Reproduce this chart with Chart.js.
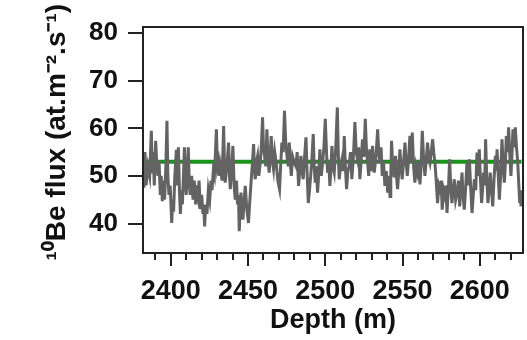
<!DOCTYPE html>
<html>
<head>
<meta charset="utf-8">
<script src="https://cdn.jsdelivr.net/npm/chart.js@4/dist/chart.umd.min.js"></script>
<style>
html,body{margin:0;padding:0;background:#fff;}
#wrap{width:527px;height:340px;position:relative;}
</style>
</head>
<body>
<div id="wrap"><canvas id="c" width="527" height="340"></canvas></div>
<script>
// Depth (m) of each sample
const depth = [
2382.0,2382.6,2383.3,2384.0,2385.2,2386.3,2387.4,2388.0,2388.6,2389.3,
2390.2,2391.0,2391.7,2392.4,2393.2,2393.8,2394.5,2395.2,2396.0,2396.8,
2397.5,2398.1,2398.8,2399.6,2400.6,2401.2,2401.8,2402.6,2403.6,2404.2,
2404.9,2405.6,2406.2,2406.9,2407.5,2408.2,2408.8,2409.4,2410.0,2410.6,
2411.3,2412.0,2412.6,2413.5,2414.4,2415.2,2416.1,2416.8,2417.6,2418.3,
2419.1,2420.0,2420.8,2421.3,2421.9,2422.6,2423.4,2424.3,2425.2,2426.0,
2426.7,2427.5,2428.2,2428.9,2429.5,2430.2,2430.8,2431.4,
2432.0,2433.2,2434.2,2434.7,2435.2,2436.3,2437.4,2438.0,2438.5,2439.3,
2440.2,2441.0,2441.7,2442.5,2443.2,2443.8,2444.3,2444.9,2445.4,2446.0,
2446.7,2447.5,2448.2,2449.2,2450.3,2451.0,2451.8,2452.7,2453.6,2454.2,
2454.7,2455.5,2456.2,2457.0,2457.9,2458.6,2459.4,2460.0,2460.7,2461.5,
2462.2,2463.0,2463.7,2464.3,2465.0,2465.8,2466.5,2467.3,2468.2,2469.3,
2470.4,2471.1,2471.9,2472.7,2473.6,2474.4,2475.2,2476.0,2476.7,2477.3,
2478.0,2478.9,2479.9,
2481.0,2481.8,2482.7,2483.5,2484.2,2485.0,2485.7,2486.6,2487.5,2488.2,
2489.0,2489.8,2490.7,2491.4,2492.2,2492.8,2493.5,2494.2,2495.0,2495.7,
2496.5,2497.4,2498.3,2499.1,2500.0,2500.8,2501.5,2502.2,2503.0,2503.6,
2504.3,2505.0,2505.8,2506.8,2507.8,2508.4,2509.0,2509.9,2510.8,2511.5,
2512.3,2513.0,2513.8,2514.6,2515.5,2516.3,2517.2,2518.2,2519.2,2520.0,
2520.9,2521.6,2522.4,2523.2,2524.1,2525.0,2525.9,2526.6,2527.4,2528.1,
2528.9,2529.7,
2530.6,2531.2,2531.7,2532.8,2533.9,2534.6,2535.4,2536.1,2536.9,2537.7,
2538.6,2539.5,2540.4,2541.2,2541.9,2542.4,2542.9,2543.7,2544.5,2545.0,
2545.5,2546.1,2546.8,2547.6,2548.3,2549.0,2549.8,2550.7,2551.6,2552.3,
2553.1,2554.0,2554.8,2555.5,2556.3,2557.2,2558.0,2558.8,2559.6,2560.5,
2561.3,2562.0,2562.8,2563.6,2564.5,2565.3,2566.2,2567.0,2567.8,2568.6,
2569.5,2570.2,2571.0,2571.8,2572.7,2573.5,2574.2,2575.0,2575.7,2576.6,
2577.5,2578.2,2578.8,
2579.8,2580.5,2581.2,2582.0,2582.8,2583.5,2584.4,2585.3,2586.2,2587.0,
2587.8,2588.5,2589.2,2590.0,2590.8,2591.7,2592.5,2593.3,2594.2,2595.0,
2595.8,2596.5,2597.4,2598.2,2599.0,2599.7,2600.5,2601.2,2601.8,2602.5,
2603.2,2603.8,2604.5,2605.3,2606.0,2606.8,2607.6,2608.4,2609.2,2610.1,
2610.6,2611.2,2612.0,2612.7,2613.5,2614.4,2615.2,2615.9,2616.5,2617.2,
2618.0,2618.7,2619.5,2620.2,2620.8,2621.5,2622.2,2623.0,2623.8,2624.6,
2625.3,2625.9,2626.3,2626.7
];
// 10Be flux (at.m-2.s-1)
const flux = [
52.5,47.5,55,48,52,50,59.5,50.5,55,48,
57.4,52,50,53,46,50,44.7,49,45,52,
61.6,50,46,48,40.1,45,42.5,50,55.5,48,
56,47,42,47,44,50,56,49,46,51,
56,48,46,50,45,49,44,48,46,49,
43,46,42,44,39.4,44,42,47,45,49,
47,51,50,55,59.8,52,53,50,
52,49,60.5,53,48.6,52,57,50,47.2,51,
56.3,48,45,49,44,46,38.4,43,46.5,43,
40.8,45,47.9,43,40.1,44,47.9,52,56.7,51,
49.3,53,54.2,50,52.8,56,62.3,56,54.2,52,
59.8,53,50.7,54,58.4,53,51.4,55,52.8,49,
47.2,52,57,55,63.7,57,54.2,52,57,53,
50,54,52.8,
52,55,47.9,51,54.2,51,49.3,54,58.1,51,
44.3,47,50.7,54,58.8,52,48.6,52,46.5,50,
55.6,50,52.8,56,62,55,50.7,53,47.9,51,
56.3,52,50.7,56,64.4,55,49.3,52,53.5,51,
58.4,52,47.2,51,52.1,55,49.3,54,61.3,55,
53.5,56,49.3,53,57.7,54,62,56,52.8,50,
55.6,51,
56.3,53,50.7,54,59.8,55,52.8,56,50,53,
47.9,51,46.5,50,45.7,50,57.4,52,50,52,
54.2,50,47.2,51,55.6,52,49.3,53,57,53,
50,54,58.4,53,59.1,52,48.6,52,50.7,53,
48.2,52,59.5,54,50,53,57,54,52.8,55,
57.7,55,52.8,49,44.3,48,47.2,49,42.9,47,
45.7,48,42.2,
47.9,53.5,48,44.3,47,49.3,45,46.5,49,43.6,
47,50.7,46,42.9,47,52.8,48,53.5,47,42.2,
46,49.3,47,54.9,50,55.6,49,44.3,47,50.7,
48,57.7,50,44.3,47,50.7,47,43.6,49,54.2,
51,55.6,50,45,50,57.7,52,48.6,52,58.4,
55,60.2,54,50,54,59.8,56,60.2,56,52.8,
48,44.3,47,43.6
];
// mean line
const meanDepth = [2383, 2627];
const meanFlux = [53, 53];
// axis ticks
const xTicks = [2390,2400,2410,2420,2430,2440,2450,2460,2470,2480,2490,2500,2510,2520,2530,2540,2550,2560,2570,2580,2590,2600,2610,2620];
const xLabelTicks = [2400,2450,2500,2550,2600];
const yTicks = [40,50,60,70,80];

const FONT = "'Liberation Sans', Arial, sans-serif";

const framePlugin = {
  id: 'frame',
  afterDraw(chart) {
    const ctx = chart.ctx;
    const a = chart.chartArea;
    const xs = chart.scales.x, ys = chart.scales.y;
    ctx.save();
    ctx.strokeStyle = '#222';
    ctx.lineWidth = 2;
    ctx.strokeRect(a.left, a.top, a.right - a.left, a.bottom - a.top);
    ctx.beginPath();
    xTicks.forEach(v => {
      const px = Math.round(xs.getPixelForValue(v));
      const len = xLabelTicks.includes(v) ? 13 : 7;
      ctx.moveTo(px, a.bottom);
      ctx.lineTo(px, a.bottom + len);
    });
    yTicks.forEach(v => {
      const py = Math.round(ys.getPixelForValue(v));
      ctx.moveTo(a.left - 15, py);
      ctx.lineTo(a.left, py);
    });
    ctx.stroke();
    ctx.restore();
  }
};

new Chart(document.getElementById('c'), {
  type: 'line',
  data: {
    datasets: [
      {
        data: depth.map((d, i) => ({x: d, y: flux[i]})),
        borderColor: '#636363',
        borderWidth: 3,
        pointRadius: 0,
        tension: 0,
        fill: false
      },
      {
        data: meanDepth.map((d, i) => ({x: d, y: meanFlux[i]})),
        borderColor: '#1a931a',
        borderWidth: 4,
        pointRadius: 0,
        fill: false
      }
    ]
  },
  options: {
    responsive: false,
    animation: false,
    devicePixelRatio: 1,
    layout: { padding: { top: 27, right: 4, left: 0, bottom: 0 } },
    plugins: { legend: { display: false }, tooltip: { enabled: false } },
    scales: {
      x: {
        type: 'linear',
        min: 2382,
        max: 2628,
        afterBuildTicks: s => { s.ticks = xTicks.map(v => ({value: v})); },
        afterFit: s => { s.height = 87; },
        grid: { display: true, drawOnChartArea: false, drawTicks: true, tickLength: 13, tickColor: 'rgba(0,0,0,0)' },
        border: { display: false },
        ticks: {
          autoSkip: false,
          maxRotation: 0,
          padding: 9,
          color: '#111',
          font: { family: FONT, size: 27, weight: 'bold' },
          callback: v => xLabelTicks.includes(v) ? String(v) : ''
        },
        title: {
          display: true,
          text: 'Depth (m)',
          color: '#111',
          font: { family: FONT, size: 27, weight: 'bold' },
          padding: { top: 0, bottom: 3 }
        }
      },
      y: {
        min: 33.8,
        max: 81.3,
        afterBuildTicks: s => { s.ticks = yTicks.map(v => ({value: v})); },
        afterFit: s => { s.width = 143; },
        grid: { display: true, drawOnChartArea: false, drawTicks: true, tickLength: 15, tickColor: 'rgba(0,0,0,0)' },
        border: { display: false },
        ticks: {
          padding: 10,
          color: '#111',
          font: { family: FONT, size: 26, weight: 'bold' }
        },
        title: {
          display: true,
          text: '  ¹⁰Be flux (at.m⁻².s⁻¹)',
          color: '#111',
          font: { family: FONT, size: 28, weight: 'bold' },
          padding: { top: 40, bottom: 0 }
        }
      }
    }
  },
  plugins: [framePlugin]
});
</script>
</body>
</html>
